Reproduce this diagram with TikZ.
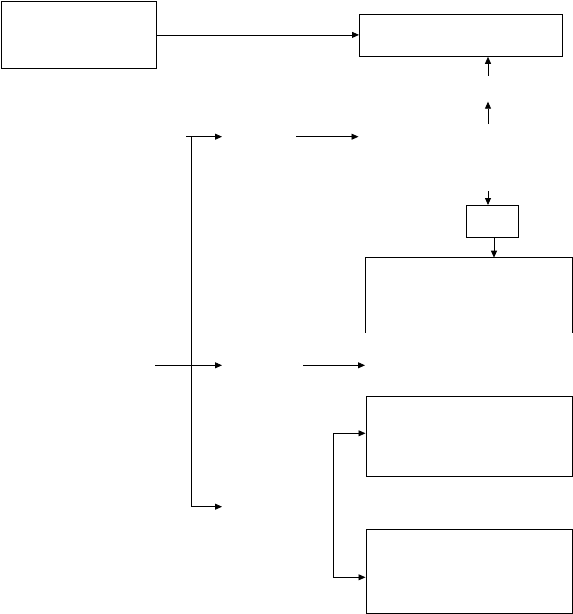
\documentclass[tikz,border=0pt]{standalone}
\usetikzlibrary{arrows.meta}
\begin{document}
\begin{tikzpicture}[x=1pt,y=-1pt,line width=0.8pt,
  conn/.style={-{Triangle[length=7pt,width=6pt]}},
  boxstyle/.style={draw,inner sep=0pt,anchor=north west},
  ghost/.style={inner sep=0pt,anchor=north west}]
\useasboundingbox (0,0) rectangle (573,614);
% boxes
\node[boxstyle,minimum width=155pt,minimum height=67pt] (A) at (1,1) {};
\node[boxstyle,minimum width=203pt,minimum height=42pt] (B) at (359,14) {};
\node[boxstyle,minimum width=51.5pt,minimum height=31.7pt] (C) at (466,205) {};
\node[ghost,minimum width=206.5pt,minimum height=74.3pt] (D) at (365.5,257.7) {};
\node[boxstyle,minimum width=206.5pt,minimum height=80pt] (E) at (365.5,396.3) {};
\node[boxstyle,minimum width=206.5pt,minimum height=84pt] (F) at (365.5,529.3) {};
\draw (D.south west) -- (D.north west) -- (D.north east) -- (D.south east);
% free ends
\coordinate (u1) at (488,75.7);
\coordinate (u2s) at (488,124);
\coordinate (u2e) at (488,101.7);
\coordinate (d1) at (488,191);
\coordinate (t1s) at (186,136.7);
\coordinate (t1e) at (222,136.7);
\coordinate (t2s) at (296,136.7);
\coordinate (t2e) at (358.5,136.7);
\coordinate (m1s) at (155,365.3);
\coordinate (m1e) at (222,365.3);
\coordinate (m2s) at (303,365.3);
\coordinate (m2e) at (365,365.3);
\coordinate (bk) at (191.5,136.7);
\coordinate (b1e) at (222,506.7);
\coordinate (ek) at (333,433.3);
\coordinate (fk) at (333,577.3);
% connectors
\draw[conn] (A.east) -- (A.east -| B.west);
\draw[conn] (u1) -- (u1 |- B.south);
\draw[conn] (u2s) -- (u2e);
\draw[conn] (d1) -- (d1 |- C.north);
\draw[conn] (C.south -| 494,0) -- (494,0 |- D.north);
\draw[conn] (t1s) -- (t1e);
\draw[conn] (t2s) -- (t2e);
\draw[conn] (m1s) -- (m1e);
\draw[conn] (m2s) -- (m2e);
\draw[conn] (bk) |- (b1e);
\draw[conn] (ek) -- (ek -| E.west);
\draw[conn] (ek) -- (fk) -- (fk -| F.west);
\end{tikzpicture}
\end{document}
